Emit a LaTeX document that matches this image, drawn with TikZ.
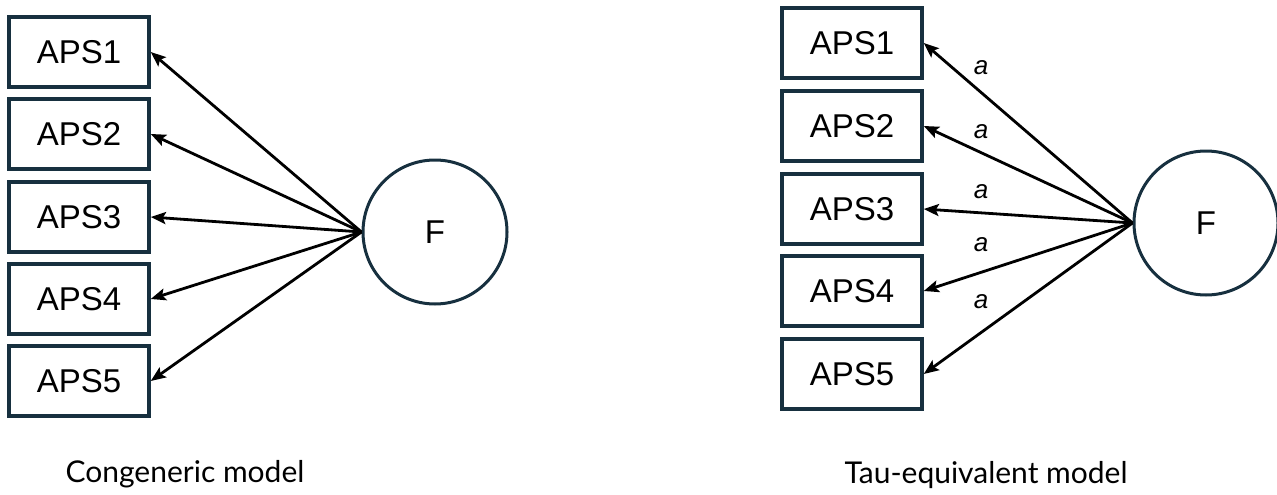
\documentclass[tikz,border=0pt]{standalone}
\usepackage{fontspec}
\setmainfont{Liberation Sans}
\newfontfamily\capfont{Lato}
\usetikzlibrary{arrows.meta}
\definecolor{edge}{HTML}{17303F}
\begin{document}
\begin{tikzpicture}[x=1pt,y=-1pt,
  item/.style={draw=edge, line width=3.5pt, minimum width=140pt, minimum height=70pt,
    inner sep=0pt, font=\fontsize{33}{36}\selectfont},
  latent/.style={draw=edge, line width=3pt, circle, minimum size=144pt,
    inner sep=0pt, font=\fontsize{33}{36}\selectfont},
  load/.style={-{Stealth[length=15pt,width=12pt,inset=3pt]}, line width=2.8pt},
  coef/.style={inner sep=0pt, font=\fontsize{26}{28}\selectfont\itshape},
  caption/.style={inner sep=0pt, font=\capfont\fontsize{30}{34}\selectfont}]
\useasboundingbox (0,0) rectangle (1277,495);

% Congeneric model
\foreach \i/\y in {1/52,2/134,3/217,4/299,5/381}
  \node[item] (L\i) at (79,\y) {APS\i};
\node[latent] (LF) at (435,232) {F};
\foreach \i in {1,...,5}
  \draw[load] (LF.west) -- (L\i.east);
\node[caption] (capL) at (185,474) {Congeneric model};

% Tau-equivalent model
\foreach \i/\y in {1/43,2/126,3/209,4/291,5/374}
  \node[item] (R\i) at (852,\y) {APS\i};
\node[latent] (RF) at (1206,223) {F};
\foreach \i in {1,...,5}
  \draw[load] (RF.west) -- (R\i.east);
\foreach \i/\y in {1/68,2/132,3/192,4/245,5/302}
  \node[coef] (a\i) at (981,\y) {a};
\node[caption] (capR) at (986,475) {Tau-equivalent model};
\end{tikzpicture}
\end{document}
